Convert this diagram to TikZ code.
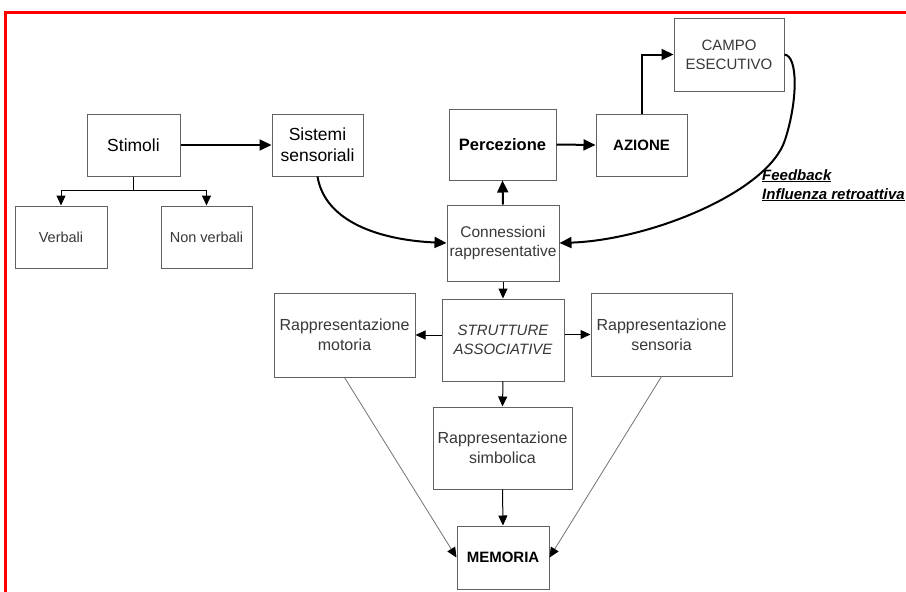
\documentclass[tikz,border=0pt]{standalone}
\usepackage{fontspec}
\setmainfont{Liberation Sans}
\usetikzlibrary{arrows.meta}
\begin{document}
\begin{tikzpicture}[x=1pt,y=-1pt,
  box/.style={draw=black!62,line width=1pt,inner sep=0pt,align=center,text=black!78,
    font=\fontsize{14.5}{19}\selectfont},
  rbox/.style={box,font=\fontsize{16}{20}\selectfont},
  bigbox/.style={box,text=black,font=\fontsize{17.5}{21}\selectfont},
  boldbox/.style={box,text=black,font=\fontsize{15}{19}\selectfont\bfseries},
  thick arrow/.style={line width=2pt,-{Triangle[length=12pt,width=11pt]}},
  thin arrow/.style={line width=1pt,-{Triangle[length=10pt,width=9pt]}},
  grey arrow/.style={draw=black!55,line width=0.8pt,-{Triangle[length=10pt,width=9pt,color=black]}},
  fblabel/.style={anchor=base west,inner sep=0pt,font=\fontsize{15}{17}\selectfont\bfseries\itshape}
]
\useasboundingbox (0,0) rectangle (906,592);
\fill[white] (0,0) rectangle (906,592);
% red frame
\draw[red,line width=3pt] (5,592) -- (5,12) -- (906,12);

% boxes
\node[bigbox,minimum width=93pt,minimum height=62pt] (stim) at (133.5,145) {Stimoli};
\node[bigbox,minimum width=91pt,minimum height=62pt] (sist) at (317.5,145) {Sistemi\\sensoriali};
\node[box,minimum width=92pt,minimum height=62pt] (verb) at (61,237) {Verbali};
\node[box,minimum width=91pt,minimum height=62pt] (nonv) at (206.5,237) {Non verbali};
\node[boldbox,minimum width=107pt,minimum height=71pt,font=\fontsize{16.5}{19}\selectfont\bfseries] (perc) at (502.5,144.5) {Percezione};
\node[boldbox,minimum width=91pt,minimum height=62pt] (azio) at (641.5,145) {AZIONE};
\node[box,minimum width=110pt,minimum height=73pt,font=\fontsize{15}{19}\selectfont] (campo) at (729,54.5) {CAMPO\\ESECUTIVO};
\node[box,minimum width=112pt,minimum height=76pt,font=\fontsize{15.5}{19}\selectfont] (conn) at (503,243) {Connessioni\\rappresentative};
\node[rbox,minimum width=141pt,minimum height=84pt] (mot) at (344.5,335) {Rappresentazione\\motoria};
\node[box,minimum width=122pt,minimum height=82pt,font=\fontsize{15}{19}\selectfont\itshape] (strut) at (503,340) {STRUTTURE\\ASSOCIATIVE};
\node[rbox,minimum width=141pt,minimum height=83pt] (sens) at (661.5,334.5) {Rappresentazione\\sensoria};
\node[rbox,minimum width=139pt,minimum height=82pt] (simb) at (502.5,448) {Rappresentazione\\simbolica};
\node[boldbox,minimum width=92pt,minimum height=63pt] (mem) at (503,557.5) {MEMORIA};

% helper coordinates
\coordinate (br) at (133.5,190);
\coordinate (brL) at (61,190);
\coordinate (brR) at (206.5,190);
\coordinate (up) at (641.5,54.5);
\coordinate (fbmid) at (785,140);

% connectors
\draw[thick arrow] (stim.east) -- (sist.west);
\draw[line width=1pt] (stim.south) -- (br);
\draw[thin arrow] (br) -- (brL) -- (verb.north);
\draw[thin arrow] (br) -- (brR) -- (nonv.north);
\draw[thick arrow] (sist.south) .. controls (325,222) and (380,240) .. (conn.west);
\draw[thick arrow] (conn.north) -- (perc.south);
\draw[thick arrow] (perc.east) -- (azio.west);
\draw[thick arrow] (azio.north) -- (up) -- (campo.west);
\draw[line width=2pt] (campo.east) .. controls (798,56) and (798,100) .. (fbmid);
\draw[thick arrow] (fbmid) .. controls (768,192) and (650,240) .. (conn.east);
\draw[thin arrow] (conn.south) -- (strut.north);
\draw[thin arrow] (mot.east -| strut.west) -- (mot.east);
\draw[thin arrow] (sens.west -| strut.east) -- (sens.west);
\draw[thin arrow] (strut.south) -- (simb.north);
\draw[thin arrow] (simb.south) -- (mem.north);
\draw[grey arrow] (mot.south) -- (mem.west);
\draw[grey arrow] (sens.south) -- (mem.east);

% feedback label
\node[fblabel] (fb1) at (762,180) {\underline{Feedback}};
\node[fblabel] (fb2) at (762,199) {\underline{Influenza retroattiva}};
\end{tikzpicture}
\end{document}
